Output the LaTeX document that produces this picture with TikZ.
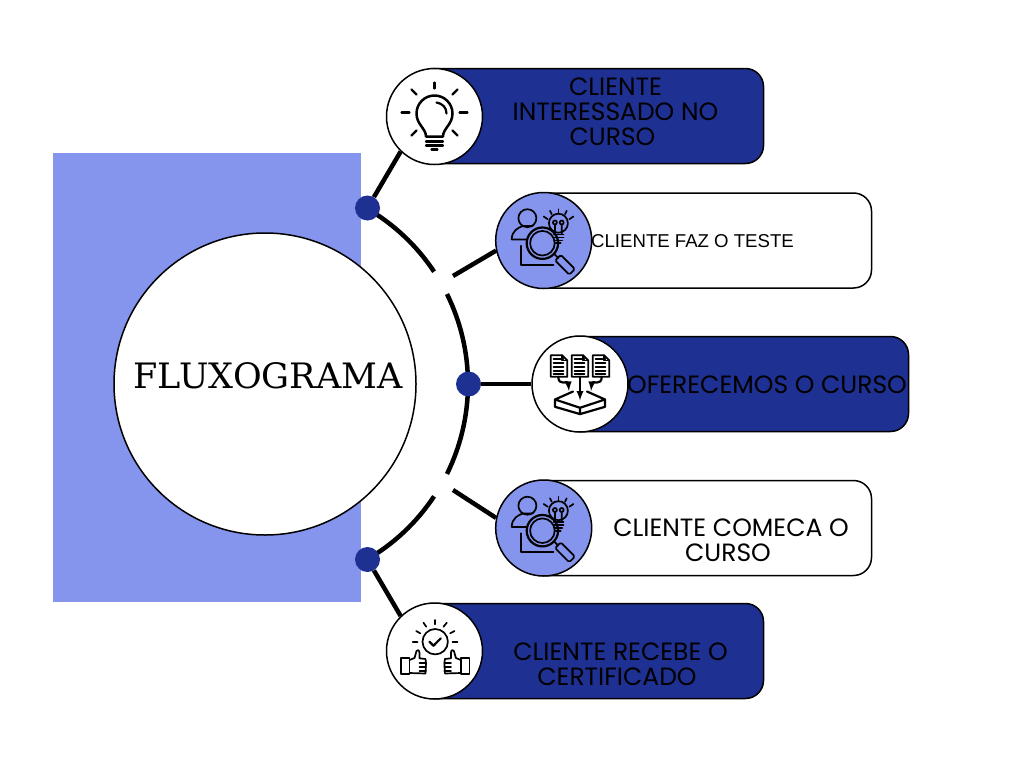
\documentclass[tikz,border=0pt]{standalone}
\usepackage{fontspec}
\setmainfont{Poppins}
\newfontfamily\titlefont{DejaVu Serif}
\newfontfamily\helvfont{Liberation Sans}
\definecolor{navy}{RGB}{30,48,145}
\definecolor{peri}{RGB}{133,148,236}
\tikzset{
  bar/.style={draw=black,line width=1.5pt,rounded corners=18pt,minimum height=95pt,inner sep=0pt},
  badge/.style={circle,draw=black,line width=1.5pt,fill=white,minimum size=96pt,inner sep=0pt},
  hub/.style={circle,fill=navy,minimum size=25pt,inner sep=0pt},
  link/.style={line width=4.5pt},
  rim/.style={line width=4.5pt},
  label/.style={align=center,font=\fontsize{25}{25}\selectfont,inner sep=0pt,text=black},
  ico/.style={line width=2.2pt,line cap=round,line join=round},
  icothin/.style={line width=1.7pt,line cap=round,line join=round}
}
\newcommand{\bulbicon}{%
  \draw[ico,line width=2.5pt] (-8.5,20) .. controls (-8.5,12) and (-18,8) .. (-18,-3) arc[start angle=180,end angle=360,radius=18] .. controls (18,8) and (8.5,12) .. (8.5,20) -- cycle;
  \draw[ico] (2,-14) .. controls (8,-13) and (12,-9) .. (12,-3);
  \foreach \a/\b/\c/\d in {0/-34/0/-28,-23/-27/-18/-22,23/-27/18/-22,-33/-4/-25/-4,33/-4/25/-4,-23/19/-18/14,23/19/18/14,-8.5/25/8.5/25,-8.5/29/8.5/29,-3/33/3/33}
    \draw[ico] (\a,\b) -- (\c,\d);
}
\newcommand{\searchicon}{%
  \draw[icothin] (-16.3,-22.3) circle[radius=9];
  \draw[icothin] (-32,-1) .. controls (-32,-10) and (-25,-13) .. (-21,-14.5) -- (-11,-14.5) (-32,-1) -- (-17,-1);
  \draw[icothin] (-22.7,5.3) -- (-22.7,24.3) -- (9.7,24.3);
  \draw[icothin] (14.7,-17.3) circle[radius=9.5];
  \draw[icothin] (10,-6) -- (19.7,-6) (10,-3) -- (19.7,-3) (11,0) -- (18.5,0) (12,2.7) -- (17,2.7);
  \draw[icothin] (11.2,-6) -- (11.2,-16) (18,-6) -- (18,-16) (11.2,-18) circle[radius=2] (18,-18) circle[radius=2];
  \draw[line width=2.2pt] (-1.3,2.7) circle[radius=15.7];
  \draw[icothin] (-1.3,2.7) circle[radius=12.3];
  \draw[icothin] (10.5,13.5) -- (14.5,17.5);
  \draw[icothin,rounded corners=1.5pt,rotate around={-45:(21.3,24.3)}] (11.3,20.3) rectangle (31.3,28.3);
  \foreach \a/\b/\c/\d in {14.7/-31.3/14.7/-27.3,6.3/-29.7/8/-26.3,23/-29.7/21.3/-26.3,0/-24/4/-21.3,29.7/-24/25.7/-21.3}
    \draw[icothin] (\a,\b) -- (\c,\d);
}
\newcommand{\docpage}[1]{%
  \begin{scope}[xshift=#1 pt]
    \draw[icothin,line width=1.8pt] (-8.3,-28.3) -- (3,-28.3) -- (8.3,-23) -- (8.3,-6.7) -- (-8.3,-6.7) -- cycle;
    \draw[icothin] (3,-28.3) -- (3,-23) -- (8.3,-23);
    \foreach \y in {-24.5,-20.5,-16.5,-12.5,-9.5}
      \draw[icothin] (-5.5,\y) -- (4.5,\y);
  \end{scope}
}
\newcommand{\docsicon}{%
  \docpage{-21} \docpage{0} \docpage{21}
  \draw[ico,-latex] (0,-6.7) -- (0,17);
  \draw[ico,-latex] (-21.7,-6.7) .. controls (-21.7,3) and (-12,-3) .. (-11,7.5);
  \draw[ico,-latex] (21.7,-6.7) .. controls (21.7,3) and (12,-3) .. (11,7.5);
  \draw[ico] (-7,8) -- (-25,16) -- (0,24.3) -- (25,16) -- (7,8);
  \draw[ico] (-25,16) -- (-25,23.3) -- (0,30.6) -- (25,23.3) -- (25,16) (0,24.3) -- (0,30.6);
}
\newcommand{\thumbhand}{%
  \draw[icothin] (-33.7,6.7) rectangle (-25,23.3);
  \draw[icothin] (-25,9) -- (-20,7) -- (-18,0) .. controls (-17.5,-2) and (-15,-1) .. (-15,2) -- (-15,7.3) -- (-9,8) -- (-8.5,12) -- (-9,22.5) -- (-25,22);
  \foreach \y in {12,16,20}
    \draw[icothin] (-15,\y) -- (-8.5,\y);
}
\newcommand{\thumbsicon}{%
  \draw[icothin] (0.7,-9.3) circle[radius=12.7];
  \draw[ico] (-5,-9.3) -- (-1,-5.3) -- (6.3,-12.7);
  \foreach \a/\b/\c/\d in {0.7/-31/0.7/-26.7,-11/-28.3/-8.3/-24.3,12.3/-28.3/9/-24.3,-18.3/-20/-14.3/-17.7,20/-20/15.7/-17.7,-21.7/-9.3/-17/-9.3,18/-9.3/23/-9.3}
    \draw[icothin] (\a,\b) -- (\c,\d);
  \thumbhand
  \begin{scope}[xshift=1.4pt,xscale=-1] \thumbhand \end{scope}
}
\begin{document}
\begin{tikzpicture}[x=1pt,y=-1pt]
  \useasboundingbox (0,0) rectangle (1024,768);
  \fill[peri] (53,153) rectangle (361,602);
  % rim round the big circle
  \draw[rim] (265,384) ++(-60:203) arc[start angle=-60,end angle=-33.6,radius=203];
  \draw[rim] (265,384) ++(-26.3:203) arc[start angle=-26.3,end angle=26.3,radius=203];
  \draw[rim] (265,384) ++(33.6:203) arc[start angle=33.6,end angle=60,radius=203];
  \node[circle,draw=black,line width=1.5pt,fill=white,minimum size=302pt,inner sep=0pt] (disc) at (265,384) {};
  \node[inner sep=0pt,font=\titlefont\fontsize{35}{38}\selectfont] (title) at (268,376) {FLUXOGRAMA};
  % bars
  \node[bar,fill=navy,minimum width=348pt] (barA) at (589.5,116) {};
  \node[bar,fill=white,minimum width=347pt] (barB) at (698,240.5) {};
  \node[bar,fill=navy,minimum width=348pt] (barC) at (734.5,384) {};
  \node[bar,fill=white,minimum width=347pt] (barD) at (698,528) {};
  \node[bar,fill=navy,minimum width=348pt] (barE) at (589.5,651) {};
  % badges
  \node[badge] (badgeA) at (434.5,116.5) {};
  \node[badge,fill=peri] (badgeB) at (543.7,240.5) {};
  \node[badge] (badgeC) at (580,384) {};
  \node[badge,fill=peri] (badgeD) at (543.7,528) {};
  \node[badge] (badgeE) at (434.5,651) {};
  % hubs
  \node[hub] (hubA) at (367.5,208) {};
  \node[hub] (hubC) at (468.5,384) {};
  \node[hub] (hubE) at (367.5,559.5) {};
  \coordinate (gapB) at (453,276);
  \coordinate (gapD) at (453,490);
  % links
  \draw[link] (hubA) -- (badgeA.226);
  \draw[link] (gapB) -- (badgeB.192);
  \draw[link] (hubC) -- (badgeC);
  \draw[link] (gapD) -- (badgeD.168);
  \draw[link] (hubE) -- (badgeE.134);
  % icons
  \begin{scope}[shift={(434.5,116.5)}] \bulbicon \end{scope}
  \begin{scope}[shift={(543.7,240.5)}] \searchicon \end{scope}
  \begin{scope}[shift={(580,383.5)}] \docsicon \end{scope}
  \begin{scope}[shift={(543.7,528)}] \searchicon \end{scope}
  \begin{scope}[shift={(434.5,651)}] \thumbsicon \end{scope}
  % labels
  \node[label] (textA) at (615.5,112) {CLIENTE\\INTERESSADO NO\\CURSO\kern6pt};
  \node[label,font=\helvfont\fontsize{18.6}{20}\selectfont] (textB) at (692.5,241) {CLIENTE FAZ O TESTE};
  \node[label] (textC) at (767,385) {OFERECEMOS O CURSO};
  \node[label] (textD) at (731,540) {CLIENTE COMECA O\\CURSO\kern6pt};
  \node[label] (textE) at (620.5,664) {CLIENTE RECEBE O\\CERTIFICADO\kern7pt};
\end{tikzpicture}
\end{document}
